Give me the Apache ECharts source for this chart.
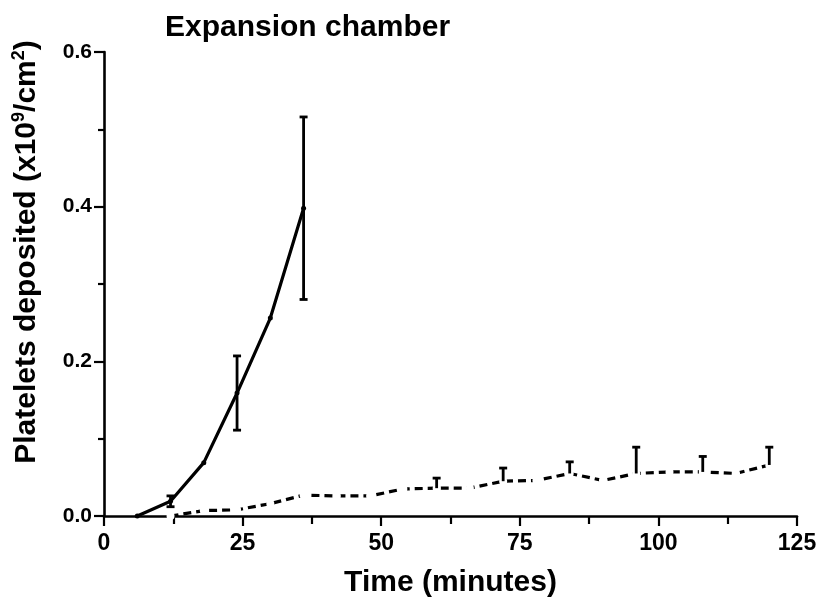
<!DOCTYPE html>
<html>
<head>
<meta charset="utf-8">
<script src="https://cdn.jsdelivr.net/npm/echarts@6/dist/echarts.min.js"></script>
<style>html,body{margin:0;padding:0;background:#fff;}#c{width:820px;height:610px;}</style>
</head>
<body>
<div id="c"></div>
<script>
// ---- data ----
const titleText = 'Expansion chamber';
const xTitle = 'Time (minutes)';
const xTicks = [0, 25, 50, 75, 100, 125];
const yTicks = [0.0, 0.2, 0.4, 0.6];

// solid line series (mean) and symmetric error
const solidX = [6, 12, 18, 24, 30, 36];
const solidY = [0, 0.019, 0.069, 0.159, 0.256, 0.398];
const solidErr = [null, 0.007, null, 0.048, null, 0.118];

// dashed line series (mean) and upper error
const dashX = [12, 18, 24, 30, 36, 42, 48, 54, 60, 66, 72, 78, 84, 90, 96, 102, 108, 114, 120];
const dashY = [0, 0.007, 0.008, 0.016, 0.027, 0.026, 0.026, 0.035, 0.036, 0.036, 0.045, 0.046, 0.055, 0.046, 0.055, 0.057, 0.057, 0.055, 0.066];
const dashErr = [null, null, null, null, null, null, null, null, 0.013, null, 0.017, null, 0.015, null, 0.034, null, 0.020, null, 0.023];

const FONT = '"Liberation Sans", Arial, sans-serif';
const NARROW = '"Liberation Sans Narrow", "Liberation Sans", Arial, sans-serif';

function pairs(xs, ys) { return xs.map((x, i) => [x, ys[i]]); }
function errData(xs, ys, errs, both) {
  const out = [];
  xs.forEach((x, i) => {
    if (errs[i] == null) return;
    out.push([x, both ? ys[i] - errs[i] : ys[i], ys[i] + errs[i], both ? 1 : 0]);
  });
  return out;
}
function errRender(params, api) {
  const x = api.value(0), lo = api.value(1), hi = api.value(2), both = api.value(3);
  const pLo = api.coord([x, lo]);
  const pHi = api.coord([x, hi]);
  const cw = 4;
  const st = { stroke: '#000', lineWidth: 2.8 };
  const children = [
    { type: 'line', shape: { x1: pLo[0], y1: pLo[1], x2: pHi[0], y2: pHi[1] }, style: st },
    { type: 'line', shape: { x1: pHi[0] - cw, y1: pHi[1], x2: pHi[0] + cw, y2: pHi[1] }, style: st }
  ];
  if (both) children.push({ type: 'line', shape: { x1: pLo[0] - cw, y1: pLo[1], x2: pLo[0] + cw, y2: pLo[1] }, style: st });
  return { type: 'group', children };
}

const chart = echarts.init(document.getElementById('c'), null, { renderer: 'canvas' });
chart.setOption({
  animation: false,
  backgroundColor: '#fff',
  title: {
    text: titleText, left: 160, top: 8,
    textStyle: { fontFamily: FONT, fontSize: 30, fontWeight: 'bold', color: '#000' }
  },
  grid: { left: 104, right: 23, top: 52, bottom: 94, containLabel: false, outerBoundsMode: 'none' },
  xAxis: {
    type: 'value', min: 0, max: 125, interval: 25,
    name: xTitle, nameLocation: 'middle', nameGap: 52,
    nameTextStyle: { fontFamily: FONT, fontSize: 30, fontWeight: 'bold', color: '#000' },
    axisLine: { show: true, onZero: false, lineStyle: { color: '#000', width: 2.6 } },
    axisTick: { show: true, inside: false, length: 10, lineStyle: { color: '#000', width: 2.2 } },
    minorTick: { show: true, splitNumber: 2, length: 8, lineStyle: { color: '#000', width: 2.2 } },
    splitLine: { show: false }, minorSplitLine: { show: false },
    axisLabel: { margin: 16, fontFamily: NARROW, fontSize: 23, fontWeight: 'bold', color: '#000',
      customValues: xTicks, formatter: v => String(v) }
  },
  yAxis: {
    type: 'value', min: 0, max: 0.6, interval: 0.2,
    name: '{a|Platelets deposited (x10}{s|9}{a|/cm}{s|2}{a|)}',
    nameLocation: 'middle', nameGap: 60,
    nameTextStyle: {
      padding: [0, 0, 0, 64],
      rich: {
        a: { fontFamily: FONT, fontSize: 30, fontWeight: 'bold', color: '#000', lineHeight: 34 },
        s: { fontFamily: FONT, fontSize: 18, fontWeight: 'bold', color: '#000', lineHeight: 34, verticalAlign: 'top' }
      }
    },
    axisLine: { show: true, onZero: false, lineStyle: { color: '#000', width: 2.6 } },
    axisTick: { show: true, inside: false, length: 10, lineStyle: { color: '#000', width: 2.2 } },
    minorTick: { show: true, splitNumber: 2, length: 6, lineStyle: { color: '#000', width: 2.2 } },
    splitLine: { show: false }, minorSplitLine: { show: false },
    axisLabel: { margin: 12, fontFamily: FONT, fontSize: 21, fontWeight: 'bold', color: '#000',
      customValues: yTicks, formatter: v => Number(v).toFixed(1) }
  },
  series: [
    {
      type: 'line', data: pairs(solidX, solidY),
      lineStyle: { color: '#000', width: 3.2 },
      symbol: 'circle', symbolSize: 5, itemStyle: { color: '#000' }, z: 3
    },
    {
      type: 'line', data: pairs(dashX, dashY),
      lineStyle: { color: '#000', width: 3.2, type: [8, 5] },
      symbol: 'emptyCircle', symbolSize: 6, itemStyle: { color: '#fff', borderColor: '#000', borderWidth: 1.6 }, z: 3
    },
    {
      type: 'custom', data: errData(solidX, solidY, solidErr, true),
      renderItem: errRender, z: 4, encode: { x: 0, y: [1, 2] }
    },
    {
      type: 'custom', data: errData(dashX, dashY, dashErr, false),
      renderItem: errRender, z: 4, encode: { x: 0, y: [1, 2] }
    }
  ]
});
</script>
</body>
</html>
